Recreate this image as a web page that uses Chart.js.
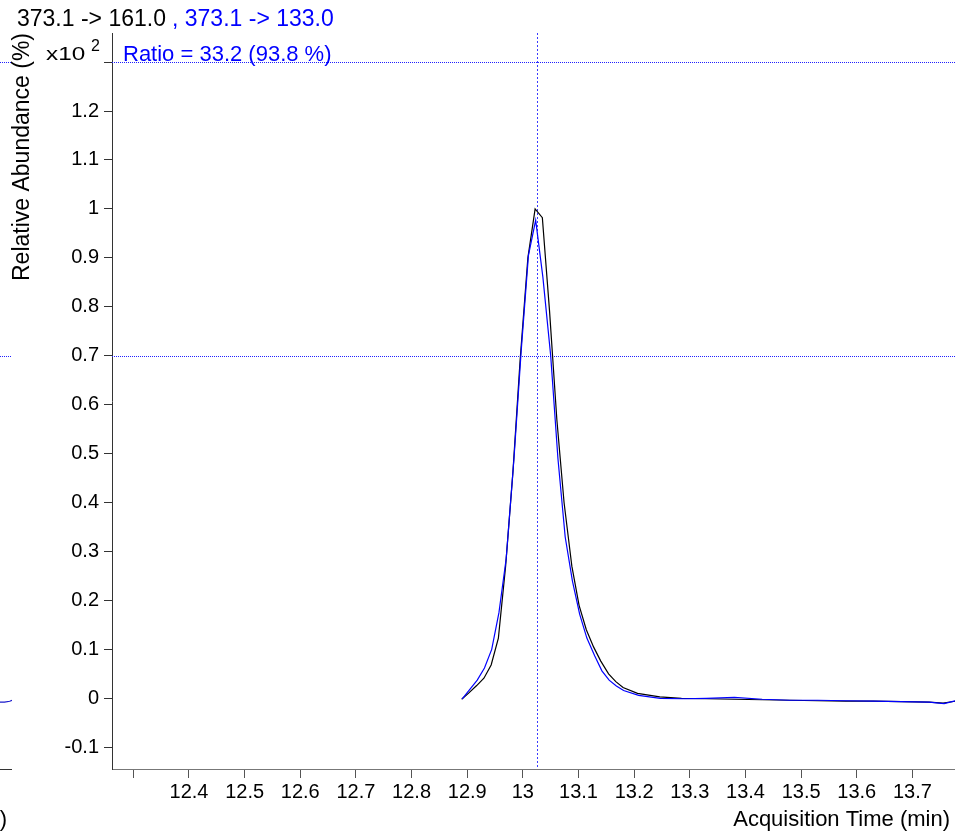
<!DOCTYPE html>
<html>
<head>
<meta charset="utf-8">
<script src="https://cdn.jsdelivr.net/npm/chart.js@4.4.0/dist/chart.umd.min.js"></script>
<style>
  body { margin: 0; background: #fff; overflow: hidden; }
  #wrap { position: relative; width: 955px; height: 835px; overflow: hidden; }
  #prev { position: absolute; left: -288px; top: 0; }
  #main { position: absolute; left: 0; top: 0; }
</style>
</head>
<body>
<div id="wrap">
  <canvas id="prev" width="300" height="835"></canvas>
  <canvas id="main" width="955" height="835"></canvas>
</div>
<script>
// quantifier 373.1 -> 161.0 (black), x10^2 %
const quantTime = [12.890, 12.903, 12.917, 12.930, 12.943, 12.956, 12.969, 12.982, 12.995, 13.009,
  13.022, 13.035, 13.048, 13.061, 13.074, 13.088, 13.101, 13.114, 13.127, 13.140,
  13.154, 13.167, 13.180, 13.206, 13.246, 13.285, 13.33, 13.38, 13.43, 13.48,
  13.53, 13.58, 13.63, 13.68, 13.73, 13.755, 13.777]
const quantAbund = [-0.002, 0.011, 0.026, 0.041, 0.068, 0.123, 0.27, 0.46, 0.69, 0.90,
  1.0, 0.982, 0.79, 0.57, 0.40, 0.27, 0.19, 0.14, 0.105, 0.076,
  0.05, 0.034, 0.022, 0.010, 0.003, 0.0, -0.001, -0.002, -0.003, -0.004,
  -0.005, -0.006, -0.006, -0.007, -0.008, -0.010, -0.006]

// qualifier 373.1 -> 133.0 (blue)
const qualTime = [12.891, 12.904, 12.918, 12.931, 12.944, 12.957, 12.970, 12.984, 12.997, 13.010,
  13.023, 13.036, 13.050, 13.063, 13.076, 13.089, 13.102, 13.115, 13.129, 13.142,
  13.155, 13.168, 13.181, 13.208, 13.247, 13.287, 13.33, 13.38, 13.43, 13.48,
  13.53, 13.58, 13.63, 13.68, 13.73, 13.757, 13.777]
const qualAbund = [-0.001, 0.017, 0.037, 0.062, 0.10, 0.175, 0.285, 0.49, 0.71, 0.905,
  0.977, 0.86, 0.70, 0.49, 0.33, 0.24, 0.172, 0.123, 0.087, 0.056,
  0.037, 0.025, 0.016, 0.006, 0.0, -0.001, 0.0, 0.002, -0.002, -0.004,
  -0.004, -0.005, -0.006, -0.007, -0.008, -0.011, -0.005]

const xTicks = [12.3, 12.4, 12.5, 12.6, 12.7, 12.8, 12.9, 13.0, 13.1, 13.2, 13.3, 13.4, 13.5, 13.6, 13.7]
const xTickLabels = ['', '12.4', '12.5', '12.6', '12.7', '12.8', '12.9', '13', '13.1', '13.2', '13.3', '13.4', '13.5', '13.6', '13.7']
const yTicks = [-0.1, 0, 0.1, 0.2, 0.3, 0.4, 0.5, 0.6, 0.7, 0.8, 0.9, 1.0, 1.1, 1.2, 1.3]
const yTickLabels = ['-0.1', '0', '0.1', '0.2', '0.3', '0.4', '0.5', '0.6', '0.7', '0.8', '0.9', '1', '1.1', '1.2', '']

const retentionTime = 13.025
const ratioLevels = [1.3, 0.7]

// tail end of the neighbouring (cut off) panel on the left
const prevTime = [1.80, 1.90, 1.95, 1.985, 2.0]
const prevAbund = [-0.008, -0.008, -0.008, -0.006, -0.004]

const FONT = '"Liberation Sans", Arial, sans-serif'

const markerLines = {
  id: 'markerLines',
  beforeDatasetsDraw(chart, args, opts) {
    const { ctx, chartArea } = chart
    const y = chart.scales.y
    ctx.save()
    ctx.strokeStyle = '#2020ff'
    ctx.lineWidth = 1
    ctx.setLineDash([1, 1])
    for (const v of opts.levels) {
      const py = Math.round(y.getPixelForValue(v)) + 0.5
      ctx.beginPath()
      ctx.moveTo(chartArea.left, py)
      ctx.lineTo(chartArea.right, py)
      ctx.stroke()
    }
    if (opts.rt != null) {
      const px = Math.round(chart.scales.x.getPixelForValue(opts.rt)) + 0.5
      ctx.strokeStyle = '#3a3aff'
      ctx.setLineDash([2, 2])
      ctx.beginPath()
      ctx.moveTo(px, chartArea.top)
      ctx.lineTo(px, chartArea.bottom)
      ctx.stroke()
    }
    ctx.restore()
  }
}

const axisTitle = {
  id: 'axisTitle',
  afterDraw(chart, args, opts) {
    const { ctx, chartArea } = chart
    ctx.save()
    ctx.font = '22px ' + FONT
    ctx.fillStyle = '#000'
    ctx.textAlign = 'right'
    ctx.textBaseline = 'middle'
    ctx.fillText(opts.text, chartArea.right - 5, chart.scales.x.bottom - 15)
    ctx.restore()
  }
}

const header = {
  id: 'header',
  afterDraw(chart) {
    const ctx = chart.ctx
    ctx.save()
    ctx.textBaseline = 'alphabetic'
    ctx.font = '23px ' + FONT
    ctx.fillStyle = '#000'
    ctx.fillText('373.1 -> 161.0', 17, 26)
    ctx.fillStyle = '#0000ff'
    ctx.fillText(', 373.1 -> 133.0', 172, 26)
    ctx.font = '22px ' + FONT
    ctx.fillText('Ratio = 33.2 (93.8 %)', 123, 61)
    ctx.fillStyle = '#000'
    ctx.save()
    ctx.translate(46, 60)
    ctx.scale(1.35, 1)
    ctx.font = '18px ' + FONT
    ctx.fillText('x10', 0, 0)
    ctx.restore()
    ctx.font = '16px ' + FONT
    ctx.fillText('2', 91, 51)
    ctx.restore()
  }
}

function xy(ts, vs) {
  return ts.map((t, i) => ({ x: t, y: vs[i] }))
}

new Chart(document.getElementById('main').getContext('2d'), {
  type: 'line',
  data: {
    datasets: [
      {
        label: '373.1 -> 133.0',
        data: xy(qualTime, qualAbund),
        borderColor: '#0000ff',
        borderWidth: 1.2,
        pointRadius: 0,
        tension: 0,
        fill: false
      },
      {
        label: '373.1 -> 161.0',
        data: xy(quantTime, quantAbund),
        borderColor: '#000000',
        borderWidth: 1.2,
        pointRadius: 0,
        tension: 0,
        fill: false
      }
    ]
  },
  options: {
    responsive: false,
    animation: false,
    layout: { padding: { top: 33, right: 0, bottom: 0, left: 0 } },
    plugins: {
      legend: { display: false },
      tooltip: { enabled: false },
      markerLines: { levels: ratioLevels, rt: retentionTime },
      axisTitle: { text: 'Acquisition Time (min)' }
    },
    scales: {
      x: {
        type: 'linear',
        min: 12.2617,
        max: 13.7765,
        afterBuildTicks: (scale) => { scale.ticks = xTicks.map(v => ({ value: v })) },
        afterFit: (scale) => { scale.height = 66 },
        ticks: {
          autoSkip: false,
          maxRotation: 0,
          padding: 2,
          color: '#000',
          font: { family: FONT, size: 20 },
          callback: (v) => xTickLabels[xTicks.findIndex(t => Math.abs(t - v) < 1e-6)]
        },
        grid: { drawOnChartArea: false, tickLength: 9, color: '#555' },
        border: { display: true, color: '#777' }
      },
      y: {
        min: -0.1445,
        max: 1.3594,
        afterBuildTicks: (scale) => { scale.ticks = yTicks.map(v => ({ value: v })) },
        afterFit: (scale) => { scale.width = 112 },
        ticks: {
          padding: 5,
          color: '#000',
          font: { family: FONT, size: 20 },
          callback: (v) => yTickLabels[yTicks.findIndex(t => Math.abs(t - v) < 1e-6)]
        },
        grid: { drawOnChartArea: false, tickLength: 8, color: '#333' },
        border: { display: true, color: '#333' },
        title: {
          display: true,
          text: 'Relative Abundance (%)',
          align: 'end',
          color: '#000',
          font: { family: FONT, size: 23 },
          padding: { top: 9, bottom: 0 }
        }
      }
    }
  },
  plugins: [markerLines, axisTitle, header]
})

new Chart(document.getElementById('prev').getContext('2d'), {
  type: 'line',
  data: {
    datasets: [
      {
        data: xy(prevTime, prevAbund),
        borderColor: '#1a1acc',
        borderWidth: 1.2,
        pointRadius: 0,
        tension: 0
      }
    ]
  },
  options: {
    responsive: false,
    animation: false,
    layout: { padding: { top: 33, right: 0, bottom: 0, left: 0 } },
    plugins: {
      legend: { display: false },
      tooltip: { enabled: false },
      markerLines: { levels: ratioLevels },
      axisTitle: { text: 'Acquisition Time (min)' }
    },
    scales: {
      x: {
        type: 'linear',
        min: 0,
        max: 2.0,
        afterFit: (scale) => { scale.height = 66 },
        ticks: { display: false },
        grid: { drawOnChartArea: false, drawTicks: false },
        border: { display: true, color: '#333' }
      },
      y: {
        display: false,
        min: -0.1445,
        max: 1.3594
      }
    }
  },
  plugins: [markerLines, axisTitle]
})
</script>
</body>
</html>
